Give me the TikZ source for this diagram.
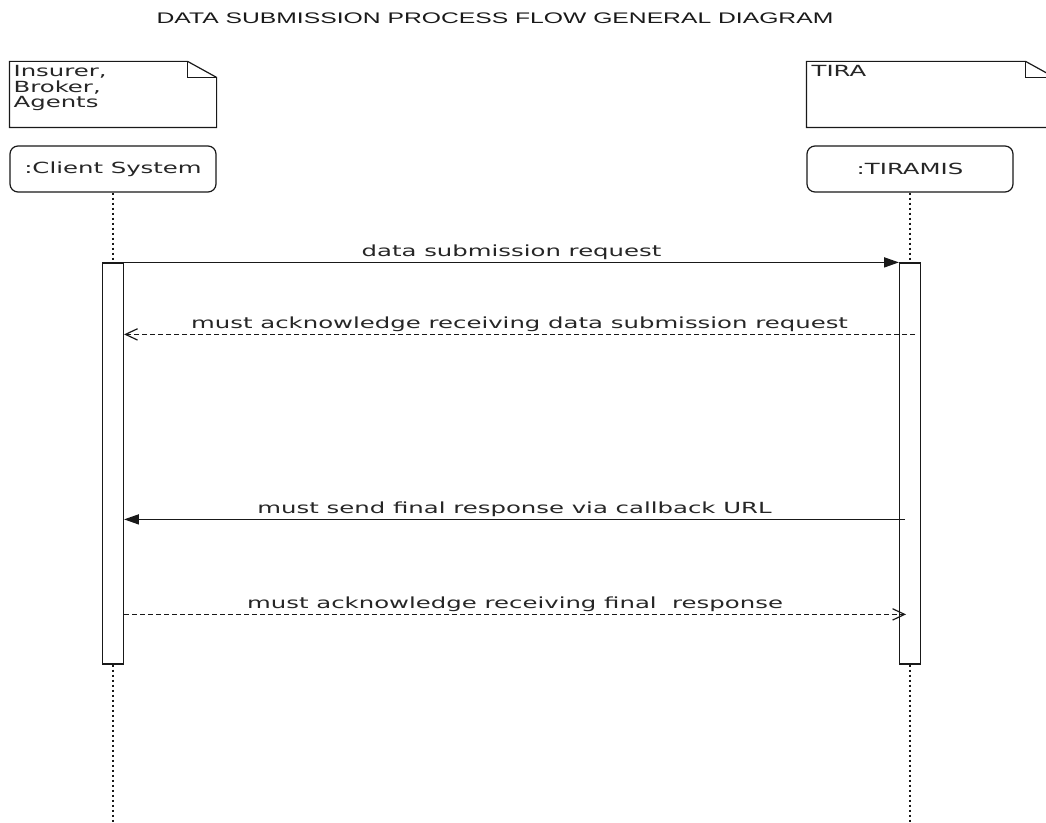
\documentclass[tikz,border=0pt]{standalone}
\usepackage{fontspec}
\usetikzlibrary{arrows.meta}
\newfontfamily\msgface[FakeStretch=1.59]{DejaVu Sans}
\newfontfamily\titleface[FakeStretch=1.61]{Liberation Sans}
\newcommand\msgfont{\msgface\fontsize{11.5pt}{11.5pt}\selectfont\lineskiplimit=-20pt}
\newcommand\titlefont{\titleface\fontsize{11.5pt}{13pt}\selectfont}
\tikzset{
  lane/.style={draw, rounded corners=6pt, minimum width=154.5pt, minimum height=34.5pt, inner sep=0pt, font=\msgfont, text=black!85},
  notebox/.style={minimum width=154.5pt, minimum height=48.75pt, inner sep=0pt},
  notetext/.style={anchor=north west, inner sep=0pt, align=left, font=\msgfont, text=black!85},
  bar/.style={draw, fill=white, minimum width=15.75pt, minimum height=300.75pt, inner sep=0pt},
  life/.style={dash pattern=on 1.5pt off 2.25pt},
  call/.style={-{Triangle[length=11pt,width=7.5pt]}},
  reply/.style={dash pattern=on 3.75pt off 2.25pt, -{Straight Barb[length=9pt,width=8.5pt]}},
  msg/.style={anchor=base, yshift=4.7pt, inner sep=0pt, font=\msgfont, text=black!85}
}
\begin{document}
\begin{tikzpicture}[x=0.75pt, y=-0.75pt, line width=0.9pt, color=black!90]
  \clip (0,0) rectangle (1046,823);
  \node[anchor=base, font=\titlefont, text=black!90] (title) at (495,24) {DATA SUBMISSION PROCESS FLOW GENERAL DIAGRAM};

  \node[notebox] (insurer) at (113,94.5) {};
  \node[notebox, minimum width=185.25pt] (tira) at (930.5,94.5) {};
  \draw (insurer.north west) -- ([xshift=-21.75pt]insurer.north east) -- ([yshift=-12pt]insurer.north east) -- (insurer.south east) -- (insurer.south west) -- cycle;
  \draw ([xshift=-21.75pt]insurer.north east) |- ([yshift=-12pt]insurer.north east);
  \draw (tira.north west) -- ([xshift=-21.75pt]tira.north east) -- ([yshift=-12pt]tira.north east) -- (tira.south east) -- (tira.south west) -- cycle;
  \draw ([xshift=-21.75pt]tira.north east) |- ([yshift=-12pt]tira.north east);
  \node[notetext] (insurertext) at (13,65) {Insurer,\\Broker,\\Agents};
  \node[notetext] (tiratext) at (811,65) {TIRA};

  \node[lane] (client) at (113,169) {:Client System};
  \node[lane] (tiramis) at (910,169) {:TIRAMIS};
  \node[bar] (bar1) at (113,463.5) {};
  \node[bar] (bar2) at (910,463.5) {};
  \coordinate (clientend) at (113,823);
  \coordinate (tiramisend) at (910,823);
  \draw[life] (client) -- (bar1);
  \draw[life] (bar1) -- (clientend);
  \draw[life] (tiramis) -- (bar2);
  \draw[life] (bar2) -- (tiramisend);

  \draw[call] (bar1.north east) -- node[msg] {data submission request} (bar2.north west);
  \draw[reply] ([xshift=3.75pt,yshift=-54pt]bar2.north) -- node[msg] {must acknowledge receiving data submission request} ([yshift=-54pt]bar1.north east);
  \draw[call] ([xshift=-3.75pt,yshift=-192.75pt]bar2.north) -- node[msg] {must send final response via callback URL} ([yshift=-192.75pt]bar1.north east);
  \draw[reply] ([yshift=-264pt]bar1.north east) -- node[msg] {must acknowledge receiving final\ \ response} ([xshift=-3pt,yshift=-264pt]bar2.north);
\end{tikzpicture}
\end{document}
